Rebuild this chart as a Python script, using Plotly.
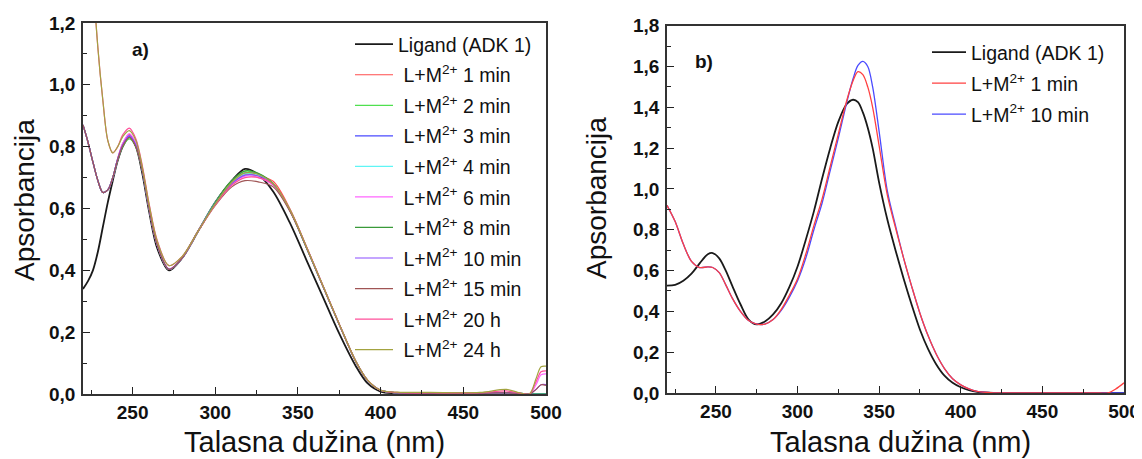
import plotly.graph_objects as go

# ---------------- Panel a) data ----------------
WL_A = [220, 223, 226, 229, 232, 235, 238, 241, 244, 248,
        252, 256, 260, 265, 272, 280, 290, 300, 310, 318,
        326, 335, 345, 355, 365, 375, 385, 392, 400, 410,
        430, 460, 476, 484, 490, 494, 497, 500]

A_LIGAND = [0.34, 0.365, 0.40, 0.46, 0.54, 0.62, 0.69, 0.755, 0.80, 0.832,
            0.80, 0.71, 0.59, 0.47, 0.40, 0.44, 0.53, 0.62, 0.69, 0.728,
            0.71, 0.655, 0.555, 0.435, 0.315, 0.195, 0.09, 0.035, 0.008, 0.002,
            0.001, 0.0, 0.0, 0.0, 0.0, 0.0, 0.0, 0.0]
A_1MIN = [0.87, 0.815, 0.75, 0.69, 0.652, 0.66, 0.70, 0.762, 0.81, 0.84,
          0.81, 0.725, 0.60, 0.48, 0.403, 0.44, 0.53, 0.615, 0.68, 0.71,
          0.706, 0.688, 0.60, 0.478, 0.35, 0.225, 0.105, 0.045, 0.012, 0.004,
          0.003, 0.003, 0.004, 0.002, 0.0, 0.0, 0.0, 0.0]
A_2MIN = [0.87, 0.815, 0.75, 0.69, 0.652, 0.66, 0.70, 0.758, 0.80, 0.825,
          0.80, 0.72, 0.60, 0.48, 0.403, 0.44, 0.53, 0.62, 0.69, 0.72,
          0.712, 0.68, 0.595, 0.475, 0.35, 0.225, 0.105, 0.045, 0.012, 0.004,
          0.003, 0.003, 0.004, 0.002, 0.0, 0.0, 0.0, 0.0]
A_3MIN = [0.87, 0.815, 0.75, 0.69, 0.652, 0.66, 0.70, 0.76, 0.805, 0.835,
          0.805, 0.72, 0.60, 0.48, 0.403, 0.44, 0.53, 0.62, 0.685, 0.715,
          0.71, 0.68, 0.595, 0.475, 0.35, 0.225, 0.105, 0.045, 0.012, 0.004,
          0.003, 0.003, 0.004, 0.002, 0.0, 0.0, 0.0, 0.0]
A_4MIN = [0.87, 0.815, 0.75, 0.69, 0.652, 0.66, 0.70, 0.76, 0.803, 0.83,
          0.803, 0.72, 0.60, 0.48, 0.403, 0.44, 0.53, 0.62, 0.685, 0.712,
          0.708, 0.678, 0.595, 0.475, 0.35, 0.225, 0.105, 0.045, 0.012, 0.004,
          0.003, 0.003, 0.004, 0.002, 0.0, 0.0, 0.0, 0.0]
A_6MIN = [0.87, 0.815, 0.75, 0.69, 0.652, 0.66, 0.70, 0.762, 0.81, 0.842,
          0.81, 0.725, 0.60, 0.48, 0.405, 0.44, 0.53, 0.615, 0.68, 0.705,
          0.70, 0.675, 0.597, 0.478, 0.352, 0.226, 0.105, 0.045, 0.012, 0.004,
          0.003, 0.003, 0.004, 0.002, 0.0, 0.03, 0.062, 0.065]
A_8MIN = [0.87, 0.815, 0.75, 0.69, 0.652, 0.66, 0.70, 0.758, 0.802, 0.83,
          0.80, 0.72, 0.60, 0.48, 0.403, 0.44, 0.53, 0.62, 0.69, 0.722,
          0.714, 0.68, 0.595, 0.475, 0.35, 0.225, 0.105, 0.045, 0.012, 0.004,
          0.003, 0.003, 0.004, 0.002, 0.0, 0.0, 0.0, 0.0]
A_10MIN = [0.87, 0.815, 0.75, 0.69, 0.652, 0.66, 0.70, 0.76, 0.806, 0.835,
           0.805, 0.72, 0.60, 0.48, 0.403, 0.44, 0.53, 0.615, 0.68, 0.708,
           0.705, 0.678, 0.597, 0.477, 0.35, 0.225, 0.105, 0.045, 0.012, 0.004,
           0.003, 0.003, 0.004, 0.002, 0.0, 0.015, 0.03, 0.03]
A_15MIN = [0.87, 0.815, 0.75, 0.69, 0.652, 0.66, 0.70, 0.758, 0.802, 0.83,
           0.80, 0.72, 0.60, 0.48, 0.403, 0.44, 0.53, 0.61, 0.67, 0.69,
           0.686, 0.67, 0.592, 0.475, 0.35, 0.225, 0.105, 0.045, 0.012, 0.004,
           0.003, 0.003, 0.004, 0.002, 0.0, 0.015, 0.03, 0.028]
A_20H = [2.30, 1.80, 1.36, 1.12, 0.95, 0.82, 0.78, 0.80, 0.838, 0.86,
         0.825, 0.735, 0.615, 0.495, 0.415, 0.445, 0.53, 0.612, 0.675, 0.70,
         0.70, 0.678, 0.598, 0.478, 0.352, 0.226, 0.106, 0.046, 0.012, 0.005,
         0.004, 0.004, 0.01, 0.003, 0.0, 0.04, 0.072, 0.075]
A_24H = [2.30, 1.80, 1.36, 1.12, 0.95, 0.82, 0.78, 0.80, 0.832, 0.852,
         0.82, 0.73, 0.612, 0.492, 0.415, 0.445, 0.53, 0.615, 0.685, 0.715,
         0.71, 0.68, 0.598, 0.478, 0.352, 0.226, 0.106, 0.046, 0.012, 0.006,
         0.005, 0.005, 0.015, 0.004, 0.0, 0.05, 0.088, 0.09]

A_NAMES = ["Ligand (ADK 1)", "1 min", "2 min", "3 min", "4 min", "6 min",
           "8 min", "10 min", "15 min", "20 h", "24 h"]
A_SERIES = [A_LIGAND, A_1MIN, A_2MIN, A_3MIN, A_4MIN, A_6MIN,
            A_8MIN, A_10MIN, A_15MIN, A_20H, A_24H]
A_COLORS = ["#1a1a1a", "#ff4d4d", "#4fe04f", "#4a4aff", "#5ff5f5", "#ff66ff",
            "#3a9a3a", "#8a4dff", "#a05555", "#ff4f9a", "#a3a340"]

# ---------------- Panel b) data ----------------
WL_B = [220, 225, 230, 235, 240, 245, 248, 252, 256, 260,
        265, 270, 275, 280, 285, 290, 295, 300, 305, 310,
        315, 320, 325, 330, 334, 337, 340, 343, 346, 350,
        355, 360, 365, 370, 375, 380, 385, 390, 395, 400,
        405, 410, 420, 440, 470, 485, 490, 495, 500]

B_LIGAND = [0.526, 0.53, 0.55, 0.585, 0.635, 0.68, 0.686, 0.66, 0.60, 0.525,
            0.435, 0.36, 0.336, 0.35, 0.385, 0.44, 0.52, 0.62, 0.75, 0.89,
            1.05, 1.20, 1.33, 1.415, 1.437, 1.425, 1.375, 1.30, 1.20, 1.03,
            0.85, 0.70, 0.56, 0.43, 0.31, 0.215, 0.14, 0.085, 0.05, 0.028,
            0.014, 0.006, 0.001, 0.0, 0.0, 0.0, 0.0, 0.0, 0.0]
B_1MIN = [0.92, 0.84, 0.73, 0.645, 0.615, 0.618, 0.615, 0.59, 0.53, 0.465,
          0.40, 0.355, 0.337, 0.338, 0.36, 0.41, 0.48, 0.56, 0.68, 0.82,
          0.95, 1.11, 1.27, 1.43, 1.53, 1.575, 1.56, 1.50, 1.40, 1.21,
          0.97, 0.81, 0.66, 0.52, 0.39, 0.28, 0.19, 0.12, 0.07, 0.04,
          0.02, 0.008, 0.001, 0.0, 0.0, 0.0, 0.0, 0.02, 0.05]
B_10MIN = [0.92, 0.84, 0.73, 0.645, 0.615, 0.618, 0.615, 0.59, 0.53, 0.465,
           0.40, 0.355, 0.337, 0.338, 0.36, 0.405, 0.47, 0.55, 0.66, 0.80,
           0.93, 1.09, 1.25, 1.42, 1.54, 1.605, 1.625, 1.60, 1.50, 1.28,
           0.99, 0.82, 0.66, 0.52, 0.39, 0.28, 0.19, 0.12, 0.07, 0.04,
           0.02, 0.008, 0.001, 0.0, 0.0, 0.0, 0.0, 0.0, 0.0]

B_NAMES = ["Ligand (ADK 1)", "1 min", "10 min"]
B_SERIES = [B_LIGAND, B_1MIN, B_10MIN]
B_COLORS = ["#1a1a1a", "#ff4040", "#4a4aff"]
B_DRAW_ORDER = [0, 2, 1]   # red drawn over blue, as in the original

X_TICKS = [250, 300, 350, 400, 450, 500]
Y_TICKS_A = [0.0, 0.2, 0.4, 0.6, 0.8, 1.0, 1.2]
Y_TICKS_B = [0.0, 0.2, 0.4, 0.6, 0.8, 1.0, 1.2, 1.4, 1.6, 1.8]

X_TITLE = "Talasna dužina (nm)"
Y_TITLE = "Apsorbancija"

FONT = "Arial, Liberation Sans, sans-serif"


def label(name, lead=""):
    if name.startswith("Ligand"):
        return name
    return lead + "L+M<sup>2+</sup> " + name


fig = go.Figure()

for i, (nm, ys, col) in enumerate(zip(A_NAMES, A_SERIES, A_COLORS)):
    fig.add_trace(go.Scatter(
        x=WL_A, y=ys, mode="lines", name=label(nm, "\u00a0"),
        line=dict(color=col, width=1.8 if i == 0 else 1.2, shape="spline", smoothing=0.9),
        xaxis="x", yaxis="y", legend="legend", legendgroup="a%d" % i, legendrank=i + 1,
    ))

for i in B_DRAW_ORDER:
    fig.add_trace(go.Scatter(
        x=WL_B, y=B_SERIES[i], mode="lines", name=label(B_NAMES[i]),
        line=dict(color=B_COLORS[i], width=1.8 if i == 0 else 1.3, shape="spline", smoothing=0.9),
        xaxis="x2", yaxis="y2", legend="legend2", legendgroup="b%d" % i, legendrank=i + 1,
    ))

tickfont = dict(family=FONT, size=19, color="#111", weight="bold")

common_x = dict(
    range=[220, 500], tickvals=X_TICKS, ticks="inside", ticklen=7, tickwidth=1.2,
    tickcolor="#222", showline=True, linecolor="#333", linewidth=1.6, mirror=True,
    showgrid=False, zeroline=False, tickfont=tickfont, automargin=False,
    minor=dict(dtick=25, tick0=0, ticks="inside", ticklen=4, tickcolor="#222", showgrid=False),
)
common_y = dict(
    ticks="inside", ticklen=7, tickwidth=1.2, tickcolor="#222", showline=True,
    linecolor="#333", linewidth=1.6, mirror=True, showgrid=False, zeroline=False,
    tickfont=tickfont, tickformat=".1f", ticklabelstandoff=2, automargin=False,
    minor=dict(dtick=0.1, tick0=0, ticks="inside", ticklen=4, tickcolor="#222", showgrid=False),
)

# The page body adds an 8 px offset; the figure is sized so it ends at the window edge.
OFF = 8
W, H = 1142 - OFF, 459 - OFF
L, R, T, B = 83 - OFF, 18, 23 - OFF, 65
pw = W - L - R
ph = H - T - B


def px_x(px):
    """window pixel x -> paper x"""
    return (px - OFF - L) / pw


def px_y(py):
    """window pixel y -> paper y"""
    return (H - B - (py - OFF)) / ph


xt_font = dict(family=FONT, size=29, color="#111")
yt_font = dict(family=FONT, size=28, color="#111")

fig.update_layout(
    width=W, height=H,
    margin=dict(l=L, r=R, t=T, b=B),
    paper_bgcolor="white", plot_bgcolor="white",
    separators=",.",
    font=dict(family=FONT, color="#111"),
    xaxis=dict(common_x, domain=[0, px_x(546)], anchor="y"),
    yaxis=dict(common_y, domain=[0, 1], range=[0, 1.2], tickvals=Y_TICKS_A, anchor="x"),
    xaxis2=dict(common_x, domain=[px_x(667), 1], anchor="y2"),
    yaxis2=dict(common_y, domain=[px_y(393), px_y(25.7)], range=[0, 1.8],
                tickvals=Y_TICKS_B, anchor="x2"),
    legend=dict(x=px_x(350), xanchor="left", y=px_y(25), yanchor="top",
                font=dict(family=FONT, size=19.5, color="#111"), bgcolor="rgba(0,0,0,0)",
                tracegroupgap=2.2, itemwidth=38, traceorder="grouped", maxheight=420),
    legend2=dict(x=px_x(927), xanchor="left", y=px_y(33), yanchor="top",
                 font=dict(family=FONT, size=19.5, color="#111"), bgcolor="rgba(0,0,0,0)",
                 tracegroupgap=2.6, itemwidth=34, traceorder="grouped", maxheight=200),
    annotations=[
        # axis titles
        dict(text=X_TITLE, xref="paper", yref="paper", x=px_x(314.5), y=px_y(442),
             xanchor="center", yanchor="middle", showarrow=False, font=xt_font),
        dict(text=X_TITLE, xref="paper", yref="paper", x=px_x(900), y=px_y(442),
             xanchor="center", yanchor="middle", showarrow=False, font=xt_font),
        dict(text=Y_TITLE, xref="paper", yref="paper", x=px_x(24), y=px_y(200),
             xanchor="center", yanchor="middle", textangle=-90, showarrow=False, font=yt_font),
        dict(text=Y_TITLE, xref="paper", yref="paper", x=px_x(596), y=px_y(198),
             xanchor="center", yanchor="middle", textangle=-90, showarrow=False, font=yt_font),
        # panel labels
        dict(text="<b>a)</b>", xref="x", yref="y", x=248.6, y=1.115, showarrow=False,
             xanchor="left", yanchor="middle", font=dict(family=FONT, size=19, color="#111")),
        dict(text="<b>b)</b>", xref="x2", yref="y2", x=236, y=1.626, showarrow=False,
             xanchor="left", yanchor="middle", font=dict(family=FONT, size=19, color="#111")),
    ],
)

fig.write_html("out.html")
